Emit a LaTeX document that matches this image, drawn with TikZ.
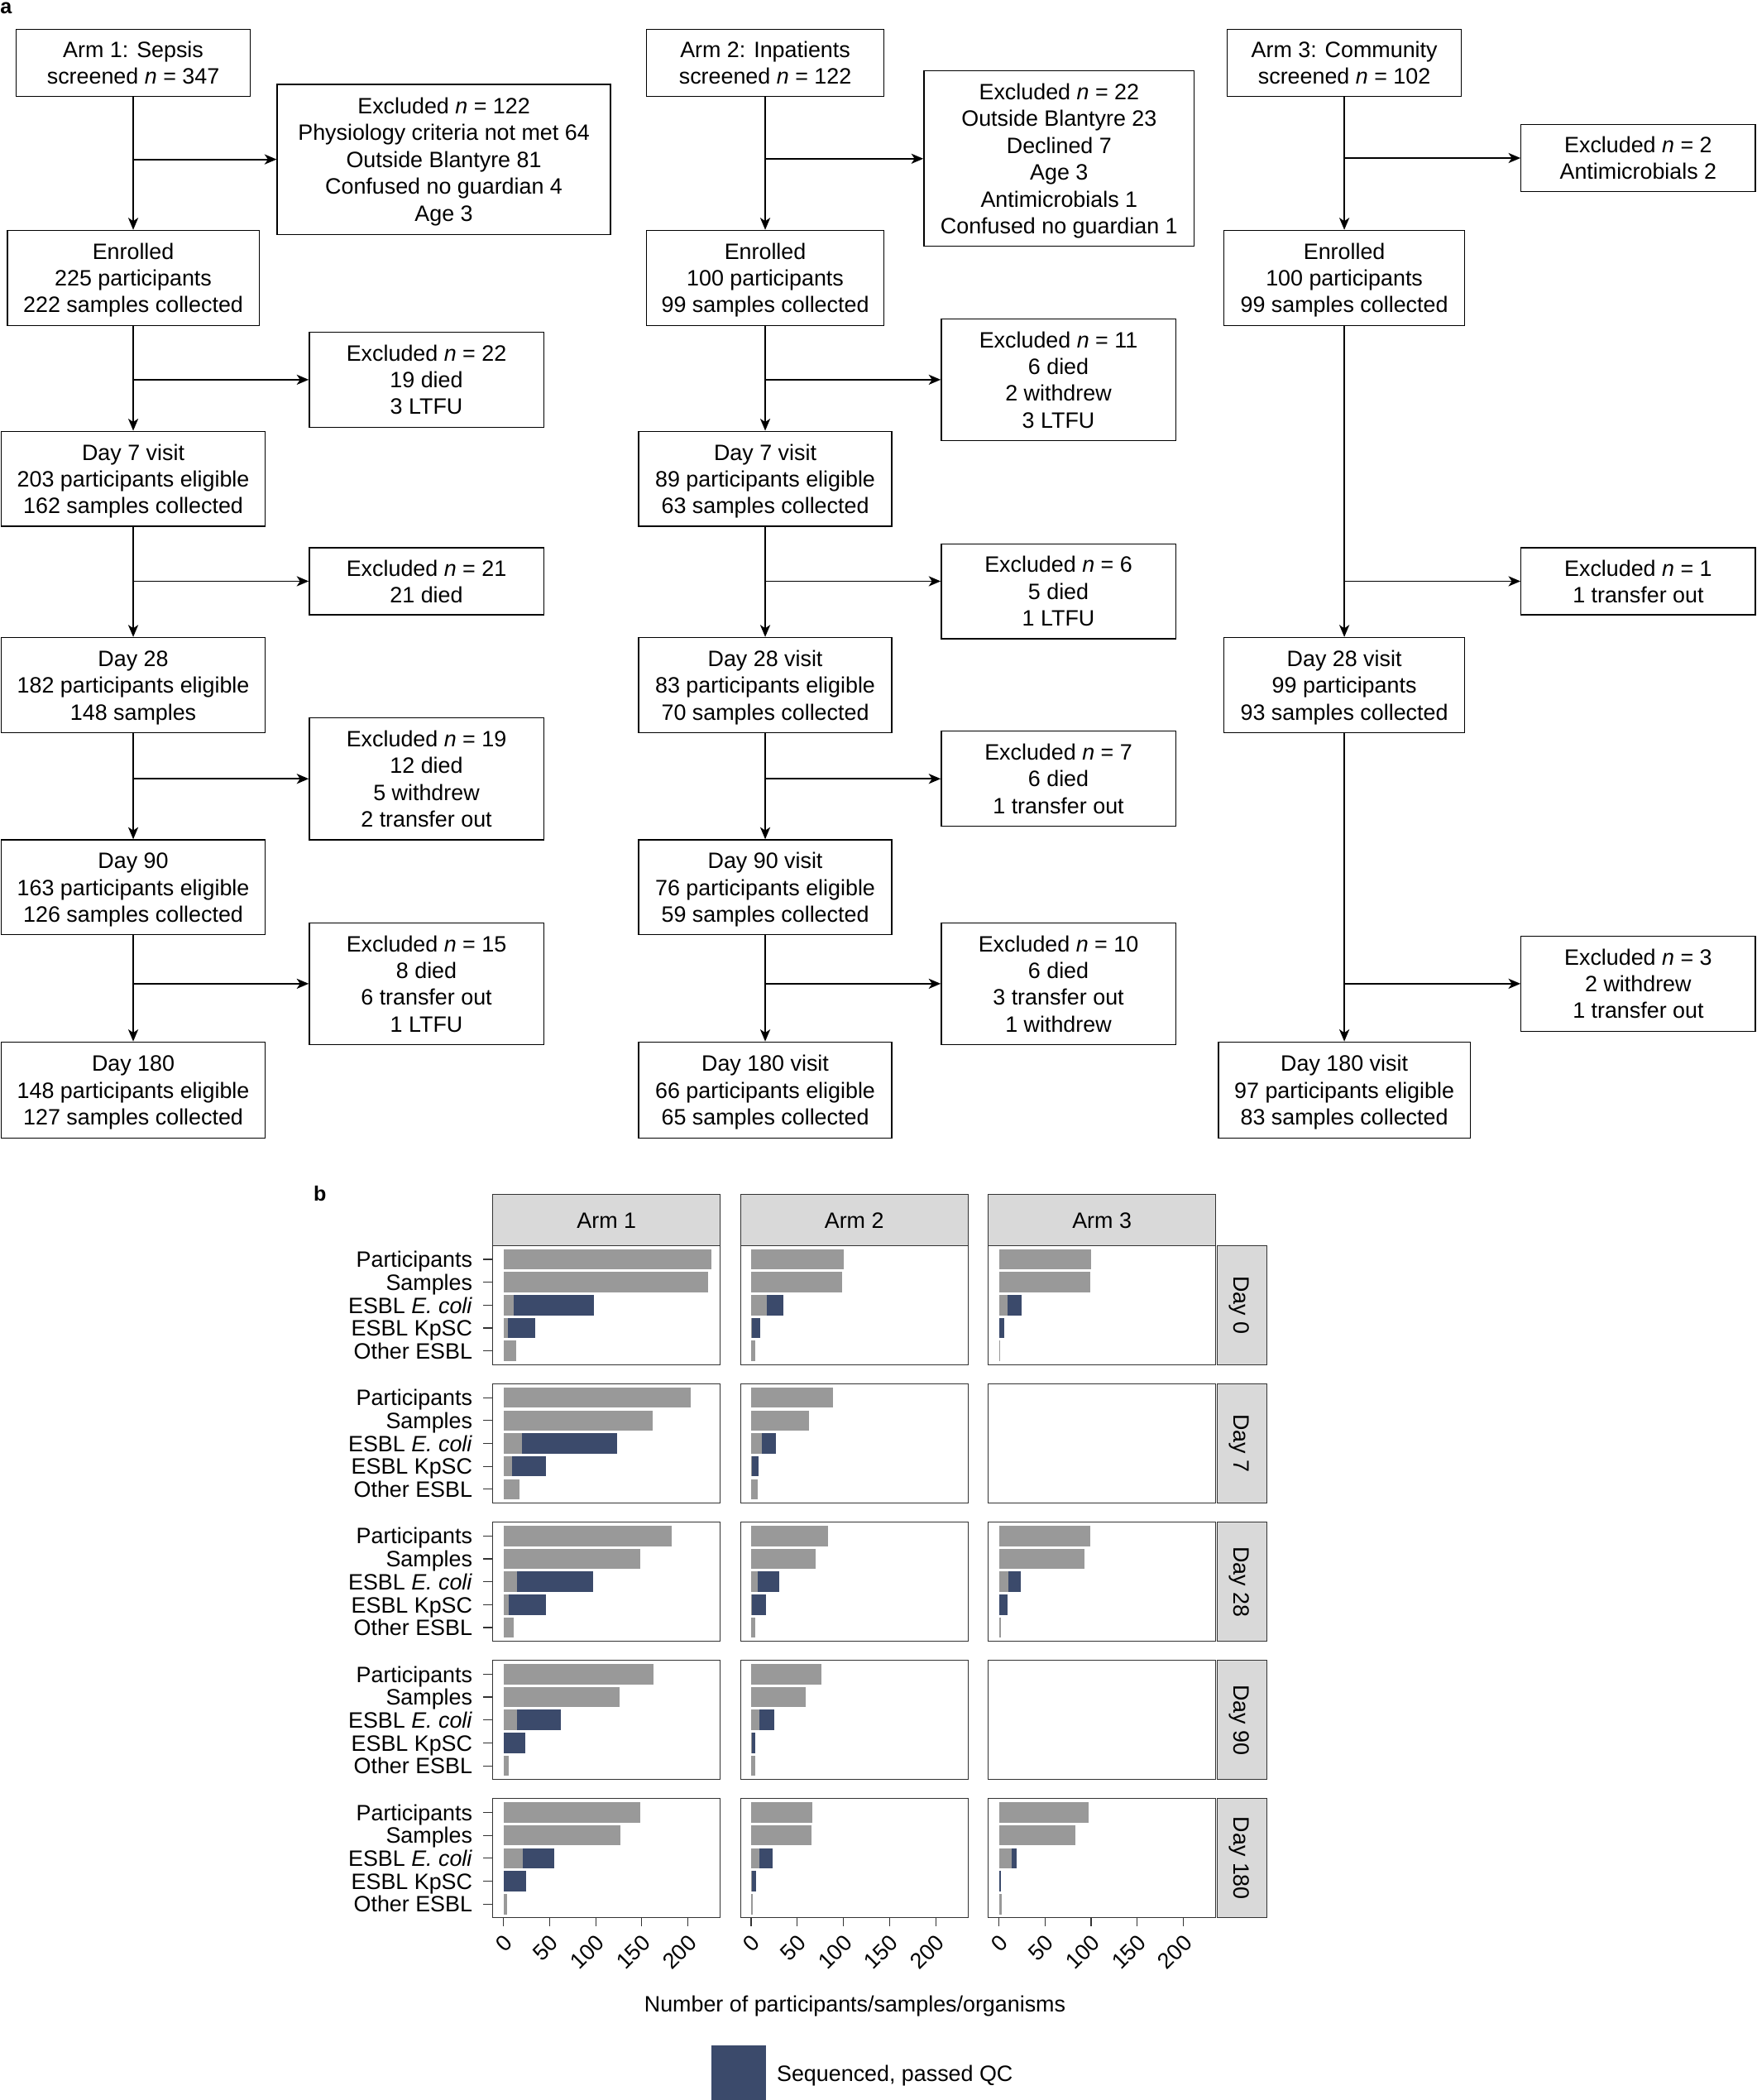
\documentclass[tikz,border=0pt]{standalone}
\usepackage{fontspec}
\setmainfont{Liberation Sans}
\usetikzlibrary{arrows.meta}
\newcommand\fs{\fontsize{16.6}{20}\selectfont}
\newcommand\nn[1]{\textit{n} = #1}
\newcommand\mystrut{\rule[-4pt]{0pt}{20pt}}
\newcommand\bx[6]{\node[box, minimum width=#3, minimum height={#5-#4}] (#1) at ({#2},{(#4+#5)/2}) {\mystrut#6\mystrut};}
\definecolor{gbar}{HTML}{999999}
\definecolor{bbar}{HTML}{3B4A6B}
\definecolor{stripfill}{HTML}{D9D9D9}
\definecolor{pframe}{HTML}{333333}
\tikzset{
  box/.style={draw, line width=0.8pt, align=center, inner sep=0pt},
  arr/.style={line width=1.1pt, -{Stealth[length=9pt,width=7.5pt,inset=2.5pt]}},
  greybar/.style={fill=gbar},
  bluebar/.style={fill=bbar},
  pborder/.style={draw=pframe, line width=0.7pt},
  stripbox/.style={draw=pframe, fill=stripfill, line width=0.7pt},
  tickline/.style={draw=pframe, line width=0.7pt},
  panellabel/.style={font=\fontsize{15.5}{18}\selectfont\bfseries, inner sep=0pt, anchor=base west}
}
\begin{document}
\begin{tikzpicture}[x=1pt,y=-1pt, every node/.style={font=\fs}]
\useasboundingbox (0,0) rectangle (1312,1568);
\fill[white] (0,0) rectangle (1312,1568);

\node[panellabel] (la) at (0,10.5) {a};
\node[panellabel] (lb) at (234,897) {b};

% ---------- Arm 1 ----------
\bx{a1}{99.5}{175}{22}{72}{Arm 1: Sepsis\\screened \nn{347}}
\bx{ex11}{331.5}{249}{63}{175}{Excluded \nn{122}\\Physiology criteria not met 64\\Outside Blantyre 81\\Confused no guardian 4\\Age 3}
\bx{en1}{99.5}{188}{172}{243}{Enrolled\\225 participants\\222 samples collected}
\bx{ex12}{318.5}{175}{248}{319}{Excluded \nn{22}\\19 died\\3 LTFU}
\bx{d71}{99.5}{197}{322}{393}{Day 7 visit\\203 participants eligible\\162 samples collected}
\bx{ex13}{318.5}{175}{409}{459}{Excluded \nn{21}\\21 died}
\bx{d281}{99.5}{197}{476}{547}{Day 28\\182 participants eligible\\148 samples}
\bx{ex14}{318.5}{175}{536}{627}{Excluded \nn{19}\\12 died\\5 withdrew\\2 transfer out}
\bx{d901}{99.5}{197}{627}{698}{Day 90\\163 participants eligible\\126 samples collected}
\bx{ex15}{318.5}{175}{689}{780}{Excluded \nn{15}\\8 died\\6 transfer out\\1 LTFU}
\bx{d1801}{99.5}{197}{778}{850}{Day 180\\148 participants eligible\\127 samples collected}

% ---------- Arm 2 ----------
\bx{a2}{571.5}{177}{22}{72}{Arm 2: Inpatients\\screened \nn{122}}
\bx{ex21}{791}{202}{53}{184}{Excluded \nn{22}\\Outside Blantyre 23\\Declined 7\\Age 3\\Antimicrobials 1\\Confused no guardian 1}
\bx{en2}{571.5}{177}{172}{243}{Enrolled\\100 participants\\99 samples collected}
\bx{ex22}{790.5}{175}{238}{329}{Excluded \nn{11}\\6 died\\2 withdrew\\3 LTFU}
\bx{d72}{571.5}{189}{322}{393}{Day 7 visit\\89 participants eligible\\63 samples collected}
\bx{ex23}{790.5}{175}{406}{477}{Excluded \nn{6}\\5 died\\1 LTFU}
\bx{d282}{571.5}{189}{476}{547}{Day 28 visit\\83 participants eligible\\70 samples collected}
\bx{ex24}{790.5}{175}{546}{617}{Excluded \nn{7}\\6 died\\1 transfer out}
\bx{d902}{571.5}{189}{627}{698}{Day 90 visit\\76 participants eligible\\59 samples collected}
\bx{ex25}{790.5}{175}{689}{780}{Excluded \nn{10}\\6 died\\3 transfer out\\1 withdrew}
\bx{d1802}{571.5}{189}{778}{850}{Day 180 visit\\66 participants eligible\\65 samples collected}

% ---------- Arm 3 ----------
\bx{a3}{1004}{175}{22}{72}{Arm 3: Community\\screened \nn{102}}
\bx{ex31}{1223.5}{175}{93}{143}{Excluded \nn{2}\\Antimicrobials 2}
\bx{en3}{1004}{180}{172}{243}{Enrolled\\100 participants\\99 samples collected}
\bx{ex32}{1223.5}{175}{409}{459}{Excluded \nn{1}\\1 transfer out}
\bx{d283}{1004}{180}{476}{547}{Day 28 visit\\99 participants\\93 samples collected}
\bx{ex33}{1223.5}{175}{699}{770}{Excluded \nn{3}\\2 withdrew\\1 transfer out}
\bx{d1803}{1004}{188}{778}{850}{Day 180 visit\\97 participants eligible\\83 samples collected}

% ---------- connectors ----------
\foreach \s/\t in {a1/en1,en1/d71,d71/d281,d281/d901,d901/d1801,
                   a2/en2,en2/d72,d72/d282,d282/d902,d902/d1802,
                   a3/en3,en3/d283,d283/d1803}
  {\draw[arr] (\s.south) -- (\s.south |- \t.north);}
\foreach \s/\e in {a1/ex11,en1/ex12,d71/ex13,d281/ex14,d901/ex15,
                   a2/ex21,en2/ex22,d282/ex24,d902/ex25,
                   a3/ex31,en3/ex32,d283/ex33}
  {\draw[arr] (\s.south |- \e.west) -- (\e.west);}
\coordinate (j23) at (571.5,434);
\draw[arr] (j23) -- (j23 -| ex23.west);

% ---------- panel b ----------
\foreach \c/\t in {0/Arm 1,1/Arm 2,2/Arm 3}{
  \draw[stripbox] (368+185*\c,892) rectangle ++(170,38);
  \node[inner sep=0pt, text height=12pt, text depth=0pt] (strip\c) at (453+185*\c,911) {\t};
}
\foreach \r/\t in {0/Day 0,1/Day 7,2/Day 28,3/Day 90,4/Day 180}{
  \draw[stripbox] (909,930+103.25*\r) rectangle ++(37,89);
  \node[rotate=-90, inner sep=0pt, text height=12pt, text depth=0pt] (rstrip\r) at (927.5,974.5+103.25*\r) {\t};
}

% bars: col/row/participants/samples/Ecoli grey/Ecoli total/Kp grey/Kp total/other
\foreach \c/\r/\vp/\vs/\veg/\vet/\vkg/\vkt/\vo in {
  0/0/225/222/10.7/98/5/34/14,
  1/0/100/99/17/35/1/10/4,
  2/0/100/99/9/25/0.6/6/1,
  0/1/203/162/20/123/9/46/17,
  1/1/89/63/12/27/1/8/7,
  0/2/182/148/15/97/6/46/11,
  1/2/83/70/7/30/1/16/4,
  2/2/99/93/10/23.5/0.5/9/2,
  0/3/163/126/15/62/0.6/24/6,
  1/3/76/59/9/25/1/4/4,
  0/4/148/127/21/55/0.6/25/4,
  1/4/66/65/9/23.5/1/5/1.5,
  2/4/97/83/14/19/0.5/2/3}{
  \pgfmathsetmacro\xz{376+185*\c}
  \pgfmathsetmacro\yt{930+103.25*\r}
  \fill[greybar] (\xz,\yt+2.7) rectangle ++(\vp*0.689,15.2);
  \fill[greybar] (\xz,\yt+19.8) rectangle ++(\vs*0.689,15.2);
  \fill[greybar] (\xz,\yt+36.9) rectangle ++(\veg*0.689,15.2);
  \fill[bluebar] (\xz+\veg*0.689,\yt+36.9) rectangle (\xz+\vet*0.689,\yt+52.1);
  \fill[greybar] (\xz,\yt+54.0) rectangle ++(\vkg*0.689,15.2);
  \fill[bluebar] (\xz+\vkg*0.689,\yt+54.0) rectangle (\xz+\vkt*0.689,\yt+69.2);
  \fill[greybar] (\xz,\yt+71.1) rectangle ++(\vo*0.689,15.2);
}

% panel borders
\foreach \c in {0,1,2}{
  \foreach \r in {0,...,4}{
    \draw[pborder] (368+185*\c,930+103.25*\r) rectangle ++(170,89);
  }
}

% y axis labels and ticks
\foreach \r in {0,...,4}{
  \foreach \k/\t in {0/Participants,1/Samples,2/ESBL \textit{E. coli},3/ESBL KpSC,4/Other ESBL}{
    \node[anchor=east, inner sep=0pt, text height=12pt, text depth=0pt] (yl\r\k) at (353,930+103.25*\r+10.3+17.1*\k) {\t};
    \draw[tickline] (361,930+103.25*\r+10.3+17.1*\k) -- (368,930+103.25*\r+10.3+17.1*\k);
  }
}

% x axis ticks and labels
\foreach \c in {0,1,2}{
  \foreach \v in {0,50,100,150,200}{
    \draw[tickline] (376+185*\c+\v*0.689,1432) -- ++(0,6);
    \node[rotate=45, anchor=north east, inner sep=0pt, text height=12pt, text depth=0pt] (xl\c\v) at (375+185*\c+\v*0.689,1443) {\v};
  }
}
\node[text height=12pt, text depth=0pt] (xtitle) at (638.5,1496) {Number of participants/samples/organisms};

% legend
\fill[bluebar] (531,1527) rectangle (572,1568);
\node[anchor=west, inner sep=0pt, text height=12pt, text depth=0pt] (legtext) at (580,1548) {Sequenced, passed QC};
\end{tikzpicture}
\end{document}
